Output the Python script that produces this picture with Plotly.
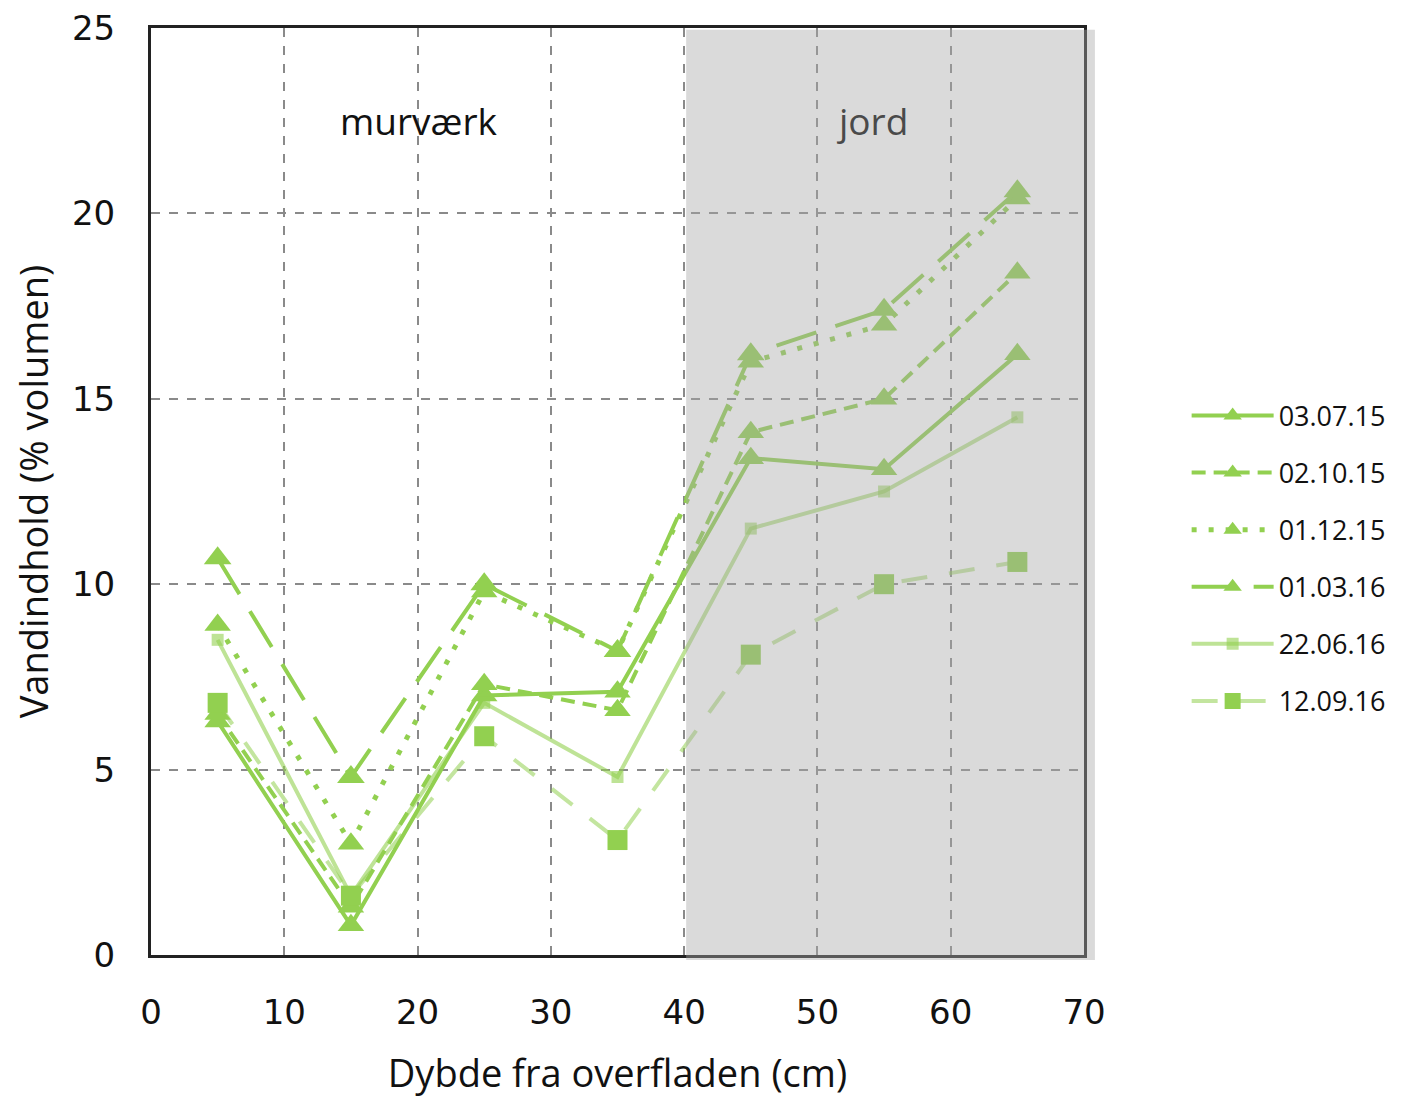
import plotly.graph_objects as go

depth = [5, 15, 25, 35, 45, 55, 65]

s_030715 = [6.3, 0.8, 7.0, 7.1, 13.4, 13.1, 16.2]
s_021015 = [6.5, 1.3, 7.3, 6.6, 14.1, 15.0, 18.4]
s_011215 = [8.9, 3.0, 9.8, 8.2, 16.0, 17.0, 20.4]
s_010316 = [10.7, 4.8, 10.0, 8.2, 16.2, 17.4, 20.6]
s_220616 = [8.5, 1.6, 6.8, 4.8, 11.5, 12.5, 14.5]
s_120916 = [6.8, 1.6, 5.9, 3.1, 8.1, 10.0, 10.6]

names = ["03.07.15", "02.10.15", "01.12.15", "01.03.16", "22.06.16", "12.09.16"]

x_ticks = [0, 10, 20, 30, 40, 50, 60, 70]
y_ticks = [0, 5, 10, 15, 20, 25]

GREEN = "#92D050"
LIGHT = "rgba(146,208,80,0.6)"
FONT = "Open Sans"
TICKFONT = "DejaVu Sans"

fig = go.Figure()

styles = [
    (s_030715, dict(color=GREEN, width=4, dash="solid"), dict(symbol="triangle-up", size=23, color=GREEN)),
    (s_021015, dict(color=GREEN, width=4, dash="14px,8px"), dict(symbol="triangle-up", size=23, color=GREEN)),
    (s_011215, dict(color=GREEN, width=5, dash="5px,12px"), dict(symbol="triangle-up", size=23, color=GREEN)),
    (s_010316, dict(color=GREEN, width=4, dash="42px,20px"), dict(symbol="triangle-up", size=24, color=GREEN)),
    (s_220616, dict(color=LIGHT, width=4, dash="solid"), dict(symbol="square", size=12, color=LIGHT)),
    (s_120916, dict(color="rgba(146,208,80,0.55)", width=4, dash="26px,22px"), dict(symbol="square", size=20, color=GREEN)),
]

for i, (vals, ln, mk) in enumerate(styles):
    fig.add_trace(go.Scatter(
        x=depth, y=vals, name=names[i], mode="lines+markers",
        line=ln, marker=mk, legendgroup=names[i],
    ))

# grey "jord" overlay (drawn above the lines, with a slight drop extension)
fig.add_shape(type="rect", xref="paper", yref="paper",
              x0=40.15 / 70, x1=1.0117, y0=-0.0055, y1=0.998,
              fillcolor="rgba(168,168,168,0.42)", line=dict(width=0), layer="above")

fig.add_annotation(x=20.1, y=22.5, text="murværk", showarrow=False,
                   font=dict(family=FONT, size=37, color="#111"))
fig.add_annotation(x=54.1, y=22.5, text="jord", showarrow=False,
                   font=dict(family=FONT, size=37, color="#4a4a4a"))

axis_common = dict(
    showline=True, mirror=True, linecolor="#222", linewidth=3,
    showgrid=True, gridcolor="#8a8a8a", gridwidth=2, griddash="dash",
    zeroline=False, ticks="", automargin=False,
    tickfont=dict(family=TICKFONT, size=34, color="#111"),
)

fig.update_xaxes(range=[0, 70], tickvals=x_ticks, ticktext=[str(v) for v in x_ticks],
                 title=dict(text="Dybde fra overfladen (cm)", font=dict(family=FONT, size=38, color="#111"), standoff=32),
                 ticklabelstandoff=25, **axis_common)
fig.update_yaxes(range=[0, 25], tickvals=y_ticks, ticktext=[str(v) for v in y_ticks],
                 title=dict(text="Vandindhold (% volumen)", font=dict(family=FONT, size=38, color="#111"), standoff=12),
                 ticklabelstandoff=26, **axis_common)

fig.update_layout(
    width=1403, height=1098,
    margin=dict(l=151, r=317, t=28, b=143),
    paper_bgcolor="white", plot_bgcolor="white",
    showlegend=True,
    legend=dict(x=1.11, y=0.608, xanchor="left", yanchor="top",
                font=dict(family=FONT, size=27, color="#111"),
                tracegroupgap=19, itemwidth=82, bgcolor="rgba(0,0,0,0)"),
)

fig.write_html("out.html")
